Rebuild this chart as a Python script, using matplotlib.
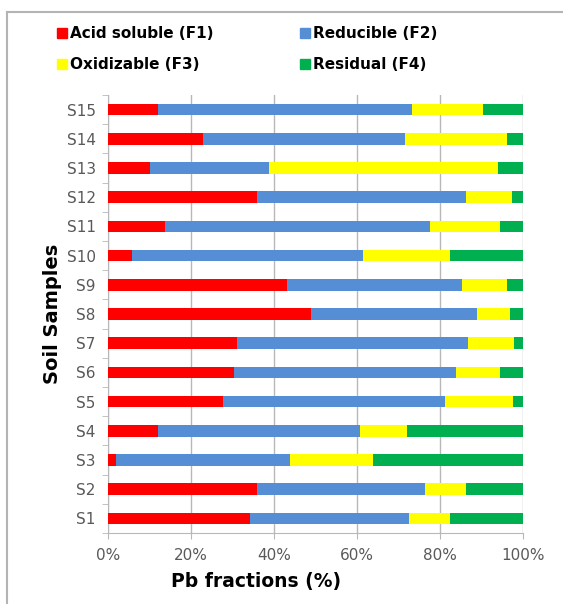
import numpy as np
import matplotlib.pyplot as plt
from matplotlib.patches import Patch
from matplotlib.lines import Line2D

## ###############################
##  DATA (fractions, %)
## ###############################
samples = ['S1', 'S2', 'S3', 'S4', 'S5', 'S6', 'S7', 'S8', 'S9', 'S10',
           'S11', 'S12', 'S13', 'S14', 'S15']
f1 = [34.1, 35.9, 1.9, 12.1, 27.6, 30.4, 31.1, 48.9, 43.2, 5.7,
      13.8, 35.8, 10.1, 22.9, 12.1]
f2 = [38.4, 40.5, 42.0, 48.6, 53.7, 53.5, 55.7, 40.0, 42.2, 55.7,
      63.8, 50.5, 28.7, 48.7, 61.1]
f3 = [10.0, 10.0, 20.0, 11.5, 16.3, 10.6, 11.2, 8.1, 10.7, 21.1,
      16.9, 11.2, 55.3, 24.5, 17.1]
f4 = [17.5, 13.6, 36.1, 27.8, 2.4, 5.5, 2.0, 3.0, 3.9, 17.5,
      5.5, 2.5, 5.9, 3.9, 9.7]
names = ['Acid soluble (F1)', 'Reducible (F2)', 'Oxidizable (F3)', 'Residual (F4)']
colors = ['#FF0000', '#558ED5', '#FFFF00', '#00B050']
xticks = [0, 20, 40, 60, 80, 100]

W, H = 563, 604
fig = plt.figure(figsize=(W/100, H/100), dpi=100)
fig.patch.set_facecolor('white')

# outer frame (cut at right and bottom)
fig.add_artist(Line2D([7/W, 1], [1-12/H, 1-12/H], color='#b4b4b4', lw=1.5))
fig.add_artist(Line2D([7/W, 7/W], [0, 1-12/H], color='#b4b4b4', lw=1.5))

ax = fig.add_axes([108.3/W, 1-533/H, 414.4/W, 438/H])

y = np.arange(len(samples))
left = np.zeros(len(samples))
for vals, c, n in zip([f1, f2, f3, f4], colors, names):
  ax.barh(y, vals, left=left, height=0.4, color=c, label=n, zorder=3)
  left = left + np.array(vals)

ax.set_xlim(0, 100)
ax.set_ylim(-0.5, len(samples)-0.5)
ax.set_xticks(xticks)
ax.set_xticklabels([f'{t}%' for t in xticks])
ax.set_yticks(y)
ax.set_yticklabels(samples)
ax.set_yticks(np.arange(-0.5, len(samples), 1), minor=True)
ax.xaxis.grid(True, color='#b8b8b8', lw=1, zorder=0)
for s in ['top', 'right']:
  ax.spines[s].set_visible(False)
for s in ['left', 'bottom']:
  ax.spines[s].set_color('#b8b8b8')
ax.tick_params(axis='y', which='major', length=0, pad=9, labelsize=11, labelcolor='#595959')
ax.tick_params(axis='y', which='minor', length=4, color='#b8b8b8')
ax.tick_params(axis='x', length=4, color='#b8b8b8', pad=7, labelsize=11, labelcolor='#595959')

ax.set_xlabel('Pb fractions (%)', fontsize=13.5, fontweight='bold', color='black')
ax.xaxis.set_label_coords((256-108.3)/414.4, -(581-533)/438, transform=ax.transAxes)
ax.xaxis.label.set_va('center')
ax.set_ylabel('Soil Samples', fontsize=14, fontweight='bold', color='black')
ax.yaxis.set_label_coords(-(108.3-53)/414.4, 0.5, transform=ax.transAxes)
ax.yaxis.label.set_va('center')

h = [Patch(color=c) for c in colors]
order = [0, 2, 1, 3]
fig.legend([h[i] for i in order], [names[i] for i in order], ncol=2,
           loc='upper left', bbox_to_anchor=(57/W, 1-26/H), frameon=False,
           borderpad=0, borderaxespad=0,
           handlelength=0.65, handleheight=0.65, handletextpad=0.2,
           columnspacing=5.65, labelspacing=1.05,
           prop={'weight': 'bold', 'size': 11})

plt.savefig('out.png', dpi=100, facecolor='w')
